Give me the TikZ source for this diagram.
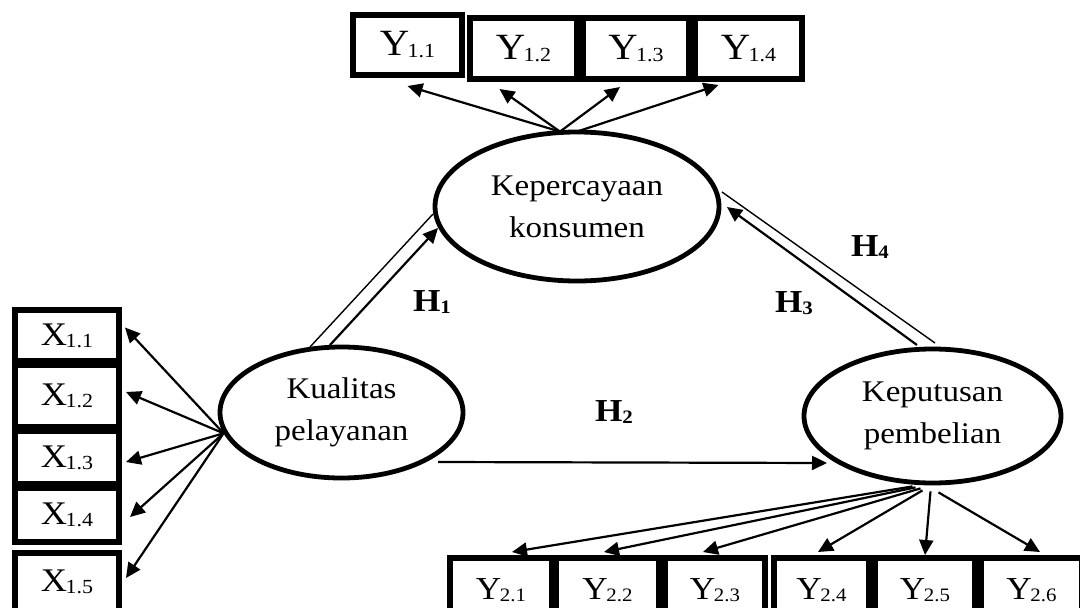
\documentclass[tikz,border=0pt]{standalone}
\usepackage{fontspec}
\setmainfont{Liberation Serif}[FakeStretch=1.1]
\usetikzlibrary{arrows.meta,shapes.geometric,calc}

\newcommand{\sbA}[1]{\kern-1.5pt\raisebox{-2pt}{\fontsize{20}{20}\selectfont #1}}
\newcommand{\sbB}[1]{\kern-1.5pt\raisebox{-2pt}{\fontsize{19}{19}\selectfont #1}}
\newcommand{\sbH}[1]{\raisebox{-2pt}{\fontsize{19}{19}\selectfont\bfseries #1}}

\tikzset{
  latent/.style={ellipse, draw, line width=4.8pt, fill=white, align=center,
    font=\fontsize{30}{42}\selectfont, inner sep=0pt},
  ind/.style={rectangle, draw, line width=6pt, fill=white, inner sep=0pt},
  indtop/.style={ind, font=\fontsize{37}{37}\selectfont},
  indleft/.style={ind, font=\fontsize{33}{33}\selectfont},
  indbot/.style={ind, font=\fontsize{32}{32}\selectfont},
  load/.style={line width=2.2pt, -{Triangle[length=15pt,width=14pt]}},
  hyp/.style={line width=2.2pt, -{Triangle[length=15pt,width=14pt]}},
  twin/.style={line width=1.4pt},
  hlab/.style={font=\fontsize{32}{32}\selectfont\bfseries, inner sep=0pt},
}

\begin{document}
\begin{tikzpicture}[x=1pt,y=-1pt]
\clip (0,0) rectangle (1080,608);
\fill[white] (0,0) rectangle (1080,608);

% latent variables
\node[latent, minimum width=284pt, minimum height=149pt] (kep) at (577,206.5) {Kepercayaan\\konsumen};
\node[latent, minimum width=243pt, minimum height=131pt] (kual) at (341.5,412.5) {Kualitas\\pelayanan};
\node[latent, minimum width=257pt, minimum height=134pt] (kp) at (932.5,416) {Keputusan\\pembelian};

% top indicators
\node[indtop, minimum width=109pt, minimum height=60pt] (y11) at (407.5,45) {Y\sbA{1.1}};
\node[indtop, minimum width=107pt, minimum height=61pt] (y12) at (523.5,48.5) {Y\sbA{1.2}};
\node[indtop, minimum width=106pt, minimum height=61pt] (y13) at (636,48.5) {Y\sbA{1.3}};
\node[indtop, minimum width=107pt, minimum height=61pt] (y14) at (748.5,48.5) {Y\sbA{1.4}};

% left indicators
\node[indleft, minimum width=104pt, minimum height=51pt] (x11) at (67,335.5) {X\sbA{1.1}};
\node[indleft, minimum width=104pt, minimum height=62pt] (x12) at (67,396) {X\sbA{1.2}};
\node[indleft, minimum width=104pt, minimum height=53pt] (x13) at (67,457.5) {X\sbA{1.3}};
\node[indleft, minimum width=104pt, minimum height=54pt] (x14) at (67,515) {X\sbA{1.4}};
\node[indleft, minimum width=104pt, minimum height=58pt] (x15) at (67,582) {X\sbA{1.5}};

% bottom indicators
\node[indbot, minimum width=102pt, minimum height=64pt] (y21) at (501,590) {Y\sbB{2.1}};
\node[indbot, minimum width=103pt, minimum height=64pt] (y22) at (607.5,590) {Y\sbB{2.2}};
\node[indbot, minimum width=100pt, minimum height=64pt] (y23) at (715,590) {Y\sbB{2.3}};
\node[indbot, minimum width=95pt, minimum height=64pt] (y24) at (821.5,590) {Y\sbB{2.4}};
\node[indbot, minimum width=100pt, minimum height=64pt] (y25) at (925,590) {Y\sbB{2.5}};
\node[indbot, minimum width=101pt, minimum height=64pt] (y26) at (1031.5,590) {Y\sbB{2.6}};

% loadings of Kepercayaan konsumen
\draw[load] ($(kep.north)+(-17,2)$) -- ($(y11.south)+(0,8)$);
\draw[load] ($(kep.north)+(-17,2)$) -- ($(y12.south)+(-24,7)$);
\draw[load] ($(kep.north)+(-17,2)$) -- ($(y13.south)+(-16,5)$);
\draw[load] ($(kep.north)+(0,2)$) -- ($(y14.south)+(-30,3)$);

% loadings of Kualitas pelayanan
\draw[load] (kual.190) -- ($(x11.east)+(3,-8)$);
\draw[load] (kual.190) -- ($(x12.east)+(4,-4)$);
\draw[load] (kual.190) -- ($(x13.east)+(4,4.5)$);
\draw[load] (kual.190) -- ($(x14.east)+(8,2)$);
\draw[load] (kual.190) -- ($(x15.east)+(4,-4)$);

% loadings of Keputusan pembelian
\draw[load] ($(kp.south)+(-20,1)$) -- ($(y21.north)+(11,-3)$);
\draw[load] ($(kp.south)+(-17,2)$) -- ($(y22.north)+(-3.5,-3)$);
\draw[load] ($(kp.south)+(-12,3)$) -- ($(y23.north)+(-12,-3)$);
\draw[load] ($(kp.south)+(-10,5)$) -- ($(y24.north)+(-3.5,-3)$);
\draw[load] ($(kp.south)+(-2,6)$) -- ($(y25.north)+(0,0)$);
\draw[load] ($(kp.south)+(6,7)$) -- ($(y26.north)+(8.5,-3)$);

% structural paths
\draw[twin] ($(kual.center)+(-31.5,-65.5)$) -- ($(kep.center)+(-144,7.5)$);
\draw[hyp] ($(kual.center)+(-11.5,-67.5)$) -- ($(kep.center)+(-139,21.5)$);
\draw[hyp] ($(kual.center)+(96.5,49.5)$) -- ($(kp.center)+(-105.5,47)$);
\draw[twin] ($(kp.center)+(2.5,-73)$) -- ($(kep.center)+(145,-14.5)$);
\draw[hyp] ($(kp.center)+(-15.5,-71)$) -- ($(kep.center)+(150,0.5)$);

% hypothesis labels
\node[hlab] (h1) at (432,302) {H\sbH{1}};
\node[hlab] (h2) at (614,412) {H\sbH{2}};
\node[hlab] (h3) at (794,303) {H\sbH{3}};
\node[hlab] (h4) at (870,247) {H\sbH{4}};
\end{tikzpicture}
\end{document}
